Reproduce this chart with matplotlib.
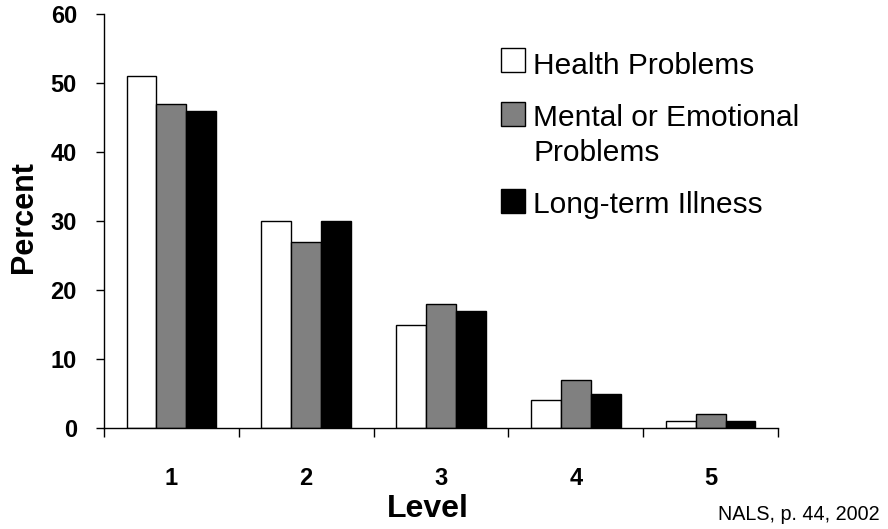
import matplotlib
matplotlib.use("Agg")
import matplotlib.pyplot as plt
from matplotlib.patches import Rectangle
import numpy as np

# percent of adults at each literacy level, by condition
levels = ['1', '2', '3', '4', '5']
health = [51, 30, 15, 4, 1]
mental = [47, 27, 18, 7, 2]
illness = [46, 30, 17, 5, 1]

series = [
    ('Health Problems', health, 'white'),
    ('Mental or Emotional\nProblems', mental, '#808080'),
    ('Long-term Illness', illness, 'black'),
]

FONT = ['Liberation Sans', 'DejaVu Sans']
W, H = 888, 529

fig = plt.figure(figsize=(W / 100, H / 100), dpi=100)
ax = fig.add_axes([104 / W, 1 - 428 / H, (778 - 104) / W, (428 - 14) / H])

x = np.arange(len(levels))
width = 0.222
for i, (name, vals, col) in enumerate(series):
    ax.bar(x + (i - 1) * width, vals, width, color=col, edgecolor='black',
           linewidth=1, label=name)

ax.set_xlim(-0.5, len(levels) - 0.5)
ax.set_ylim(0, 60)
ax.set_yticks(np.arange(0, 61, 10))

# labels sit under the categories, ticks mark the boundaries
ax.set_xticks(x)
ax.set_xticklabels(levels)
ax.set_xticks(np.arange(-0.5, len(levels), 1), minor=True)
ax.tick_params(axis='x', which='major', length=0, pad=28)
ax.tick_params(axis='x', which='minor', length=6.5, width=1, direction='out')
ax.tick_params(axis='y', length=6, width=1, direction='out', pad=13.5)

for lab in ax.get_xticklabels() + ax.get_yticklabels():
    lab.set_fontfamily(FONT)
    lab.set_fontweight('bold')
    lab.set_fontsize(17)

for side in ['top', 'right']:
    ax.spines[side].set_visible(False)
for side in ['left', 'bottom']:
    ax.spines[side].set_linewidth(1)

ax.set_ylabel('Percent', family=FONT, fontweight='bold', fontsize=22)
ax.yaxis.set_label_coords(-(104 - 39) / (778 - 104), (428 - 217) / (428 - 14))
ax.set_xlabel('Level', family=FONT, fontweight='bold', fontsize=23, va='baseline')
ax.xaxis.set_label_coords((428 - 104) / (778 - 104), -(517 - 428) / (428 - 14))

# legend: square swatch next to each label, drawn in pixel positions
swatch_top = [48, 102, 189]
text_base = [74, 161, 213]   # baseline of each label's last line
for (name, _, col), top, base in zip(series, swatch_top, text_base):
    fig.add_artist(Rectangle((501 / W, 1 - (top + 24) / H), 24 / W, 24 / H,
                             transform=fig.transFigure, facecolor=col,
                             edgecolor='black', linewidth=1))
    fig.text(533 / W, 1 - base / H, name, ha='left', va='baseline',
             family=FONT, fontsize=21.5, linespacing=1.3)

fig.text(880 / W, 1 - 514 / H, 'NALS, p. 44, 2002', ha='right', va='center',
         family=FONT, fontsize=14.2)

fig.savefig('out.png', dpi=100)
